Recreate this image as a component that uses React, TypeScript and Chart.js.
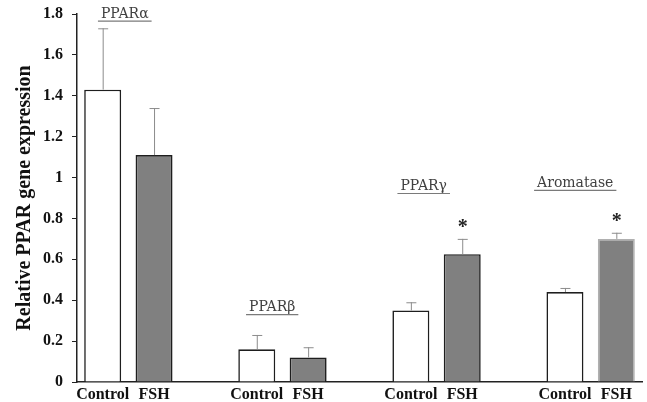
import React, { useEffect, useRef } from "react";
import { Chart, registerables } from "chart.js";
Chart.register(...registerables);

const categories = ["Control", "FSH", "", "Control", "FSH", "", "Control", "FSH", "", "Control", "FSH"];
const values = [1.43, 1.11, null, 0.16, 0.12, null, 0.35, 0.625, null, 0.44, 0.70];
const errors = [0.30, 0.23, null, 0.07, 0.05, null, 0.04, 0.075, null, 0.02, 0.03];
const significant = [false, false, false, false, false, false, false, true, false, false, true];
const groupNames = ["PPARα", "PPARβ", "PPARγ", "Aromatase"];
const groupLabelX = [0.43, 3.3, 6.25, 9.2];
const groupLabelY = [1.765, 0.33, 0.922, 0.937];
const yMin = 0;
const yMax = 1.8;
const yStep = 0.2;
const yTitle = "Relative PPAR gene expression";

const fills = values.map((_, i) => (i % 3 === 0 ? "#ffffff" : "#808080"));
const borders = values.map((_, i) => (i === 10 ? "#b0b0b0" : "#1e1e1e"));

const annotPlugin = {
  id: "annot",
  afterDatasetsDraw(chart: any) {
    const ctx = chart.ctx;
    const meta = chart.getDatasetMeta(0);
    const ys = chart.scales.y;
    const xs = chart.scales.x;
    ctx.save();
    values.forEach((v, i) => {
      if (v == null) return;
      const bar = meta.data[i];
      const e = errors[i] || 0;
      const top = ys.getPixelForValue(v + e);
      ctx.strokeStyle = "#8c8c8c";
      ctx.lineWidth = 1;
      ctx.beginPath();
      ctx.moveTo(bar.x + 0.5, bar.y);
      ctx.lineTo(bar.x + 0.5, top);
      ctx.moveTo(bar.x - 4.5, top + 0.5);
      ctx.lineTo(bar.x + 5.5, top + 0.5);
      ctx.stroke();
      if (significant[i]) {
        ctx.fillStyle = "#222";
        ctx.font = "bold 20px 'Liberation Serif'";
        ctx.textAlign = "center";
        ctx.textBaseline = "middle";
        ctx.fillText("*", bar.x + 0.5, top - 11);
      }
    });
    groupNames.forEach((name, g) => {
      const x = xs.getPixelForValue(groupLabelX[g]);
      const y = ys.getPixelForValue(groupLabelY[g]);
      ctx.font = "14px 'DejaVu Serif'";
      ctx.fillStyle = "#404040";
      ctx.textAlign = "center";
      ctx.textBaseline = "bottom";
      ctx.fillText(name, x, y);
      const w = ctx.measureText(name).width;
      ctx.strokeStyle = "#7a7a7a";
      ctx.lineWidth = 1.2;
      ctx.beginPath();
      ctx.moveTo(x - w / 2 - 3, y);
      ctx.lineTo(x + w / 2 + 3, y);
      ctx.stroke();
    });
    ctx.restore();
  },
};

export default function App() {
  const ref = useRef<HTMLCanvasElement>(null);
  useEffect(() => {
    document.body.style.margin = "0";
    const chart = new Chart(ref.current!, {
      type: "bar",
      data: {
        labels: categories,
        datasets: [
          {
            data: values as any,
            backgroundColor: fills,
            borderColor: borders,
            borderWidth: 1.6,
            categoryPercentage: 1,
            barPercentage: 0.72,
          },
        ],
      },
      options: {
        responsive: false,
        animation: false,
        layout: { padding: { top: 14, right: 5, left: 0, bottom: 0 } },
        plugins: { legend: { display: false }, tooltip: { enabled: false } },
        scales: {
          x: {
            grid: { display: false, drawTicks: false },
            border: { display: true, color: "#222", width: 1.5 },
            ticks: {
              autoSkip: false,
              maxRotation: 0,
              padding: 3,
              color: "#111",
              font: { family: "'Liberation Serif'", size: 16, weight: "bold" },
            },
            afterFit: (s: any) => {
              s.height = 20;
            },
          },
          y: {
            min: yMin,
            max: yMax,
            ticks: {
              stepSize: yStep,
              padding: 9,
              color: "#111",
              font: { family: "'Liberation Serif'", size: 16, weight: "bold" },
              callback: (v: any) => String(Math.round(Number(v) * 10) / 10),
            },
            grid: { display: true, drawOnChartArea: false, drawTicks: true, tickLength: 5, color: "#222", lineWidth: 1 },
            border: { display: true, color: "#222", width: 1.5 },
            title: {
              display: true,
              text: yTitle,
              color: "#111",
              padding: { top: 13, bottom: 0 },
              font: { family: "'Liberation Serif'", size: 20, weight: "bold" },
            },
            afterFit: (s: any) => {
              s.width = 77;
              s.paddingTop = 0;
              s.paddingBottom = 0;
            },
          },
        },
      },
      plugins: [annotPlugin],
    });
    return () => chart.destroy();
  }, []);
  return <canvas ref={ref} width={647} height={402} style={{ display: "block" }} />;
}
